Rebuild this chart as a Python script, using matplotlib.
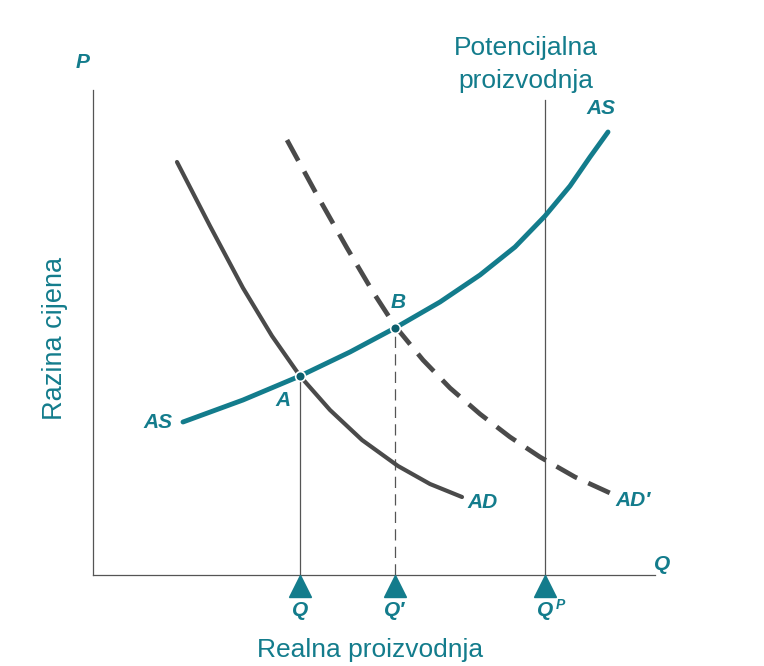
import matplotlib.pyplot as plt

# Chart units: Q along the horizontal axis, P along the vertical axis
teal = "#137c8c"
gray = "#4a4a4a"

as_q = [1.76, 2.96, 4.1, 5.1, 6.0, 6.9, 7.7, 8.4, 9.0, 9.5, 9.9, 10.26]
as_p = [3.06, 3.5, 3.98, 4.46, 4.94, 5.46, 6.0, 6.56, 7.18, 7.78, 8.36, 8.86]

ad_q = [1.64, 2.3, 2.96, 3.54, 4.1, 4.7, 5.34, 6.06, 6.7, 7.34]
ad_p = [8.26, 6.98, 5.74, 4.78, 3.98, 3.3, 2.7, 2.18, 1.82, 1.56]

ad2_q = [3.84, 4.44, 5.04, 5.56, 6.0, 6.56, 7.1, 7.7, 8.3, 8.9, 9.6, 10.3]
ad2_p = [8.7, 7.6, 6.54, 5.66, 4.98, 4.3, 3.74, 3.22, 2.76, 2.36, 1.96, 1.64]

q_marks = [4.1, 6.0, 9.0]
q_labels = ["Q", "Q\u2032", "Q"]

fig = plt.figure(figsize=(7.64, 6.66), dpi=100)
ax = fig.add_axes([0, 0, 1, 1])
ax.set_xlim(-1.9, 13.38)
ax.set_ylim(-1.82, 11.5)
ax.axis("off")
plt.rcParams['font.family'] = ['Liberation Sans', 'DejaVu Sans']

# axes
ax.plot([-0.04, -0.04], [0, 9.7], color="#555555", lw=0.9)
ax.plot([-0.04, 11.2], [0, 0], color="#555555", lw=0.9)

# guide lines
ax.plot([q_marks[0], q_marks[0]], [0, as_p[2]], color="#555555", lw=0.9)
ax.plot([q_marks[1], q_marks[1]], [0, as_p[4]], color="#555555", lw=0.9, dashes=(9, 5))
ax.plot([q_marks[2], q_marks[2]], [0, 9.5], color="#555555", lw=0.9)

# curves
ax.plot(ad_q, ad_p, color=gray, lw=3.0, solid_capstyle="round", solid_joinstyle="round")
ax.plot(ad2_q, ad2_p, color=gray, lw=3.4, dashes=(5, 2.6))
ax.plot(as_q, as_p, color=teal, lw=3.5, solid_capstyle="round", solid_joinstyle="round")

# equilibrium points
ax.plot([as_q[2], as_q[4]], [as_p[2], as_p[4]], "o", color="#0d5f6d",
        markersize=7, markeredgecolor="white", markeredgewidth=1.2)

# triangles under axis
ax.plot(q_marks, [-0.22] * 3, "^", color=teal, markersize=16)
for q, lab in zip(q_marks, q_labels):
    ax.text(q, -0.72, lab, color=teal, fontsize=15, fontweight="bold",
            fontstyle="italic", ha="center", va="center")
ax.text(q_marks[2] + 0.3, -0.6, "P", color=teal, fontsize=10, fontweight="bold",
        fontstyle="italic", ha="center", va="center")

tkw = dict(color=teal, fontsize=15, fontweight="bold", fontstyle="italic",
           ha="center", va="center")
ax.text(-0.24, 10.26, "P", **tkw)
ax.text(11.34, 0.2, "Q", **tkw)
ax.text(1.26, 3.06, "AS", **tkw)
ax.text(10.12, 9.34, "AS", **tkw)
ax.text(3.76, 3.5, "A", **tkw)
ax.text(6.06, 5.44, "B", **tkw)
ax.text(7.76, 1.46, "AD", **tkw)
ax.text(10.76, 1.5, "AD\u2032", **tkw)

nkw = dict(color=teal, fontsize=19, ha="center", va="baseline")
ax.text(8.62, 10.4, "Potencijalna", **nkw)
ax.text(8.62, 9.74, "proizvodnja", **nkw)
ax.text(5.5, -1.64, "Realna proizvodnja", **nkw)
ax.text(-0.8, 4.74, "Razina cijena", color=teal, fontsize=19.5,
        ha="center", va="center", rotation=90)

fig.savefig("out.png", dpi=100, facecolor="white")
